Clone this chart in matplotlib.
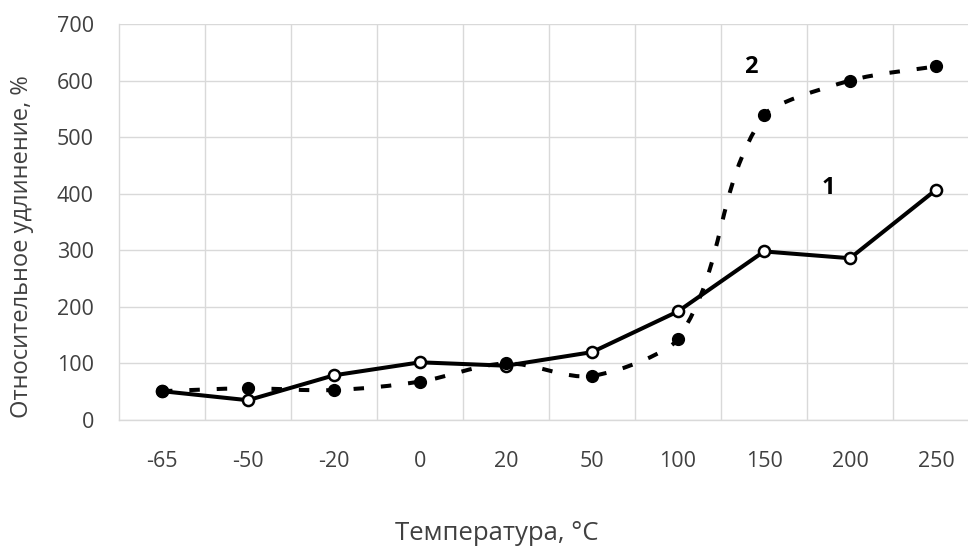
import numpy as np
import matplotlib
matplotlib.use("Agg")
import matplotlib.pyplot as plt
from matplotlib.path import Path
from matplotlib.patches import PathPatch

temps = ["-65", "-50", "-20", "0", "20", "50", "100", "150", "200", "250"]
elong_1 = [51, 35, 79, 102, 96, 120, 192, 298, 286, 407]
elong_2 = [51, 56, 53, 68, 100, 78, 143, 539, 600, 625]
y_ticks = [0, 100, 200, 300, 400, 500, 600, 700]

plt.rcParams["font.family"] = ["Open Sans", "DejaVu Sans"]
text_col = "#404040"
grid_col = "#d9d9d9"

fig = plt.figure(figsize=(9.68, 5.52), dpi=100)
ax = fig.add_axes([0.1229, 0.2391, 0.8885, 0.7174])
ax.set_xlim(-0.5, 9.5)
ax.set_ylim(0, 700)

x = np.arange(len(temps))

# series 1: straight segments, open markers
ax.plot(x, elong_1, color="black", linewidth=2.9, zorder=3,
        marker="o", markersize=8, markerfacecolor="white",
        markeredgecolor="black", markeredgewidth=1.8)

# series 2: smoothed curve (Bezier, tangent handles weighted by the
# on-screen segment lengths), dashed, filled markers
fig.canvas.draw()
pts = np.column_stack([x, elong_2]).astype(float)
scr = ax.transData.transform(pts)
ext = np.vstack([pts[0], pts, pts[-1]])
ext_s = np.vstack([scr[0], scr, scr[-1]])
seg = np.hypot(*np.diff(ext_s, axis=0).T) ** 2
verts = [tuple(pts[0])]
codes = [Path.MOVETO]
for i in range(len(pts) - 1):
    p0, p1, p2, p3 = ext[i], ext[i + 1], ext[i + 2], ext[i + 3]
    d0, d1, d2 = seg[i], seg[i + 1], seg[i + 2]
    w1 = d1 / (d0 + d1) / 3.0 if d0 > 0 else 1 / 6.0
    w2 = d1 / (d1 + d2) / 3.0 if d2 > 0 else 1 / 6.0
    c1 = p1 + (p2 - p0) * w1
    c2 = p2 - (p3 - p1) * w2
    verts += [tuple(c1), tuple(c2), tuple(p2)]
    codes += [Path.CURVE4] * 3
patch = PathPatch(Path(verts, codes), facecolor="none", edgecolor="black",
                  linewidth=2.9, linestyle=(0, (2.6, 4.2)), capstyle="butt",
                  zorder=4)
ax.add_patch(patch)
ax.plot(x, elong_2, linestyle="none", marker="o", markersize=8.5,
        color="black", zorder=5)

ax.text(6.85, 624, "2", fontsize=17, fontweight="bold", ha="center",
        va="center", color="black")
ax.text(7.75, 410, "1", fontsize=17, fontweight="bold", ha="center",
        va="center", color="black")

ax.set_xticks(x)
ax.set_xticklabels(temps)
ax.set_xticks(np.arange(0.5, 9, 1), minor=True)
ax.set_yticks(y_ticks)
ax.tick_params(axis="both", which="both", length=0, colors=text_col,
               labelsize=15.5)
ax.tick_params(axis="x", pad=22)
ax.tick_params(axis="y", pad=18)
ax.grid(True, which="minor", axis="x", color=grid_col, linewidth=1)
ax.grid(True, which="major", axis="y", color=grid_col, linewidth=1)
ax.set_axisbelow(True)
for side in ["top", "right"]:
    ax.spines[side].set_visible(False)
for side in ["left", "bottom"]:
    ax.spines[side].set_color(grid_col)
    ax.spines[side].set_linewidth(1)

fig.text(0.513, 0.034, "Температура, °C", fontsize=18.5, color=text_col,
         ha="center", va="center")
fig.text(0.023, 0.554, "Относительное удлинение, %", fontsize=17,
         color=text_col, ha="center", va="center", rotation=90)

fig.savefig("out.png", dpi=100)
